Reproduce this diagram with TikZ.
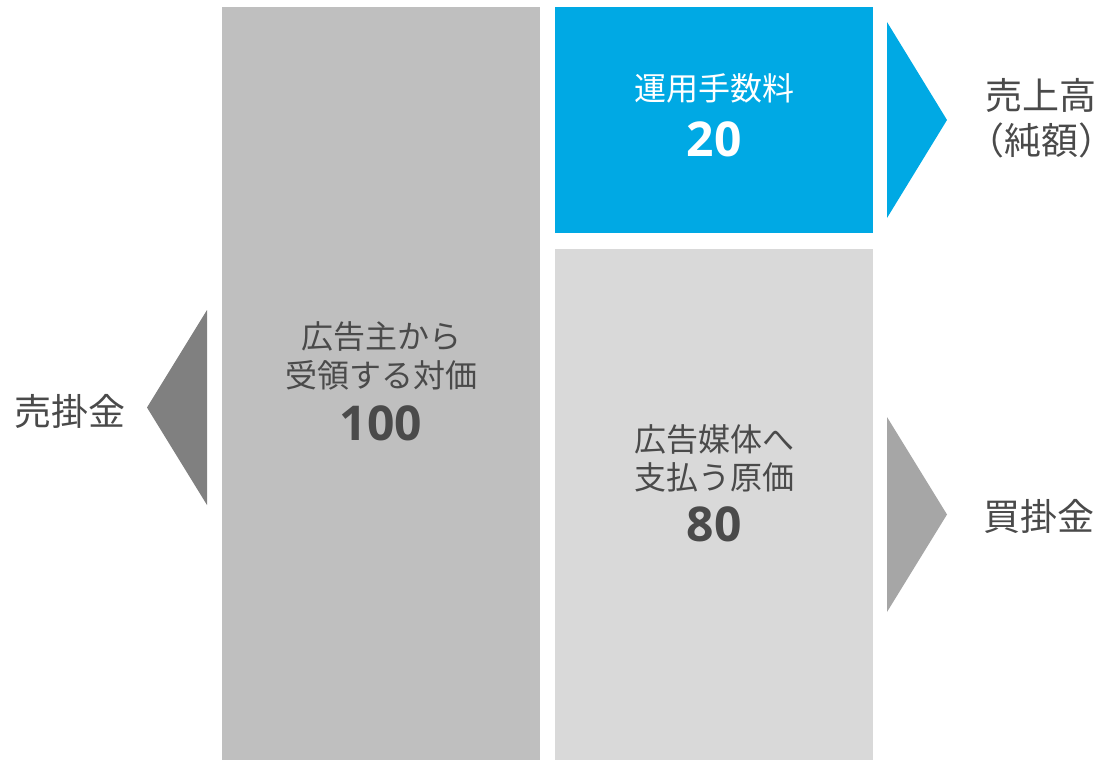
\documentclass[tikz,border=0pt]{standalone}
\usepackage{fontspec}
\newfontfamily\jp{Noto Sans CJK JP}
\newfontfamily\num{Open Sans}
\definecolor{bluec}{RGB}{0,169,228}
\definecolor{grayA}{RGB}{191,191,191}
\definecolor{grayB}{RGB}{217,217,217}
\definecolor{grayTri}{RGB}{128,128,128}
\definecolor{grayTri2}{RGB}{166,166,166}
\definecolor{txt}{RGB}{74,74,74}
\tikzset{
  box/.style={inner sep=0pt, outer sep=0pt},
  jpbody/.style={anchor=base, inner sep=0pt, font=\jp\fontsize{32}{32}\selectfont},
  jpside/.style={anchor=base, inner sep=0pt, text=txt, font=\jp\fontsize{37}{37}\selectfont},
  bignum/.style={anchor=base, inner sep=0pt, font=\num\bfseries\fontsize{48}{48}\selectfont},
}
\begin{document}
\begin{tikzpicture}[x=1pt,y=-1pt]
\useasboundingbox (0,0) rectangle (1104,760);
% boxes
\fill[grayA] (222,7) rectangle (540,760);
\fill[bluec] (555,7) rectangle (873,233);
\fill[grayB] (555,249) rectangle (873,760);
% triangles
\fill[grayTri] (207,310) -- (207,505) -- (147,407.5) -- cycle;
\fill[bluec] (887,22) -- (887,218) -- (947,120) -- cycle;
\fill[grayTri2] (887,417) -- (887,612) -- (947,514.5) -- cycle;
% left box text
\node[jpbody, text=txt] (l1) at (381,348) {広告主から};
\node[jpbody, text=txt] (l2) at (381,387) {受領する対価};
\node[bignum, text=txt] (l3) at (381,440) {100};
% blue box text
\node[jpbody, text=white] (b1) at (714,101) {運用手数料};
\node[bignum, text=white] (b2) at (714,156) {20};
% light box text
\node[jpbody, text=txt] (g1) at (714,451) {広告媒体へ};
\node[jpbody, text=txt] (g2) at (714,489) {支払う原価};
\node[bignum, text=txt] (g3) at (714,541) {80};
% side labels
\node[jpside] (s1) at (70,425) {売掛金};
\node[jpside] (s2) at (1041,110) {売上高};
\node[jpside] (s3) at (1041,154) {\makebox[0.5em][r]{（}純額\makebox[0.5em][l]{）}};
\node[jpside] (s4) at (1039,530) {買掛金};
\end{tikzpicture}
\end{document}
